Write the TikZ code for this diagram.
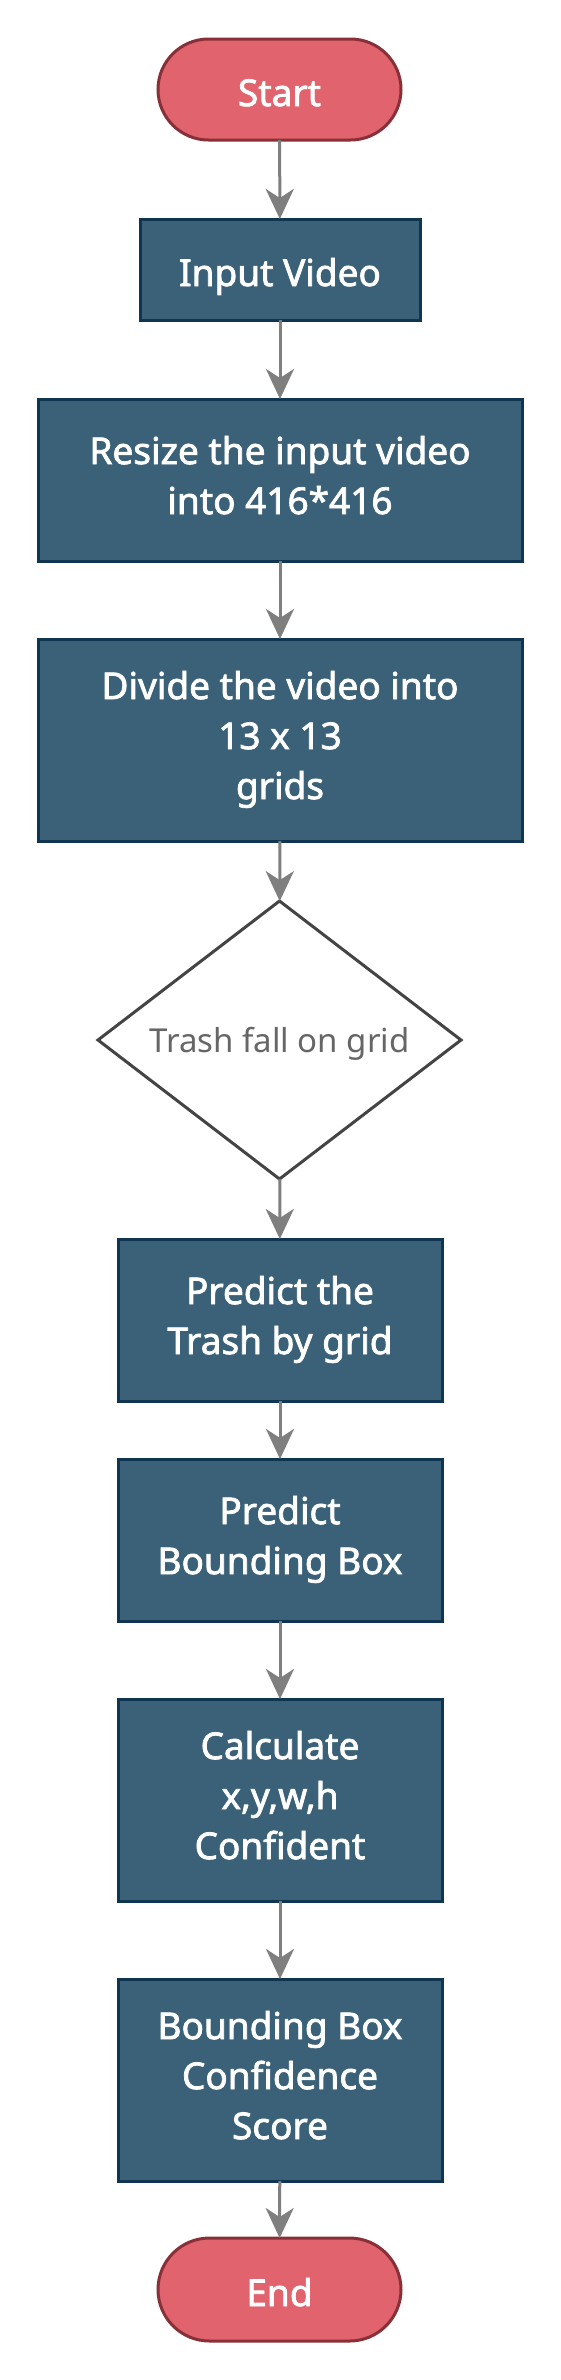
\documentclass[tikz,border=0pt]{standalone}
\usepackage{fontspec}
\setmainfont{Noto Sans}[AutoFakeBold=2]
\usetikzlibrary{arrows.meta,shapes.geometric,shapes.misc}
\definecolor{boxfill}{HTML}{3A6178}
\definecolor{boxline}{HTML}{0F3550}
\definecolor{termfill}{HTML}{E0636E}
\definecolor{termline}{HTML}{873038}
\definecolor{arrowgray}{HTML}{7F7F7F}
\definecolor{decline}{HTML}{444444}
\definecolor{dectext}{HTML}{666666}
\newcommand{\boxstrut}{\rule[-10pt]{0pt}{53pt}}
\newcommand{\decstrut}{\rule[-8pt]{0pt}{40pt}}
\tikzset{
  x=1pt,y=-1pt,
  every node/.style={inner sep=0pt,outer sep=0pt},
  procbox/.style={rectangle,fill=boxfill,draw=boxline,line width=3pt,text=white,
    align=center,font=\fontsize{37}{50}\selectfont\bfseries,
    execute at begin node=\boxstrut, execute at end node=\boxstrut},
  termbox/.style={rounded rectangle,fill=termfill,draw=termline,line width=3pt,text=white,
    font=\fontsize{37}{50}\selectfont\bfseries,
    execute at begin node=\boxstrut, execute at end node=\boxstrut},
  decbox/.style={diamond,aspect=1.3,draw=decline,fill=white,line width=3pt,text=dectext,
    font=\fontsize{33}{40}\selectfont,
    execute at begin node=\decstrut, execute at end node=\decstrut},
  flow/.style={draw=arrowgray,line width=3pt,-{Stealth[length=30pt,width=28pt,inset=9pt]}}
}
\begin{document}
\begin{tikzpicture}
\useasboundingbox (0,0) rectangle (560,2380);
\fill[white] (0,0) rectangle (560,2380);
\node[termbox,minimum width=243pt,minimum height=101pt] (start) at (279.5,89.5) {Start};
\node[procbox,minimum width=280pt,minimum height=101pt] (input) at (280,269.5) {Input Video};
\node[procbox,minimum width=484pt,minimum height=162pt] (resize) at (280,480) {Resize the input video\\into 416*416};
\node[procbox,minimum width=484pt,minimum height=202pt] (divide) at (280,740) {Divide the video into\\13 x 13\\grids};
\node[decbox,minimum width=363pt,minimum height=278pt] (dec) at (279.5,1040) {Trash fall on grid};
\node[procbox,minimum width=324pt,minimum height=162pt] (ptrash) at (280,1320) {Predict the\\Trash by grid};
\node[procbox,minimum width=324pt,minimum height=162pt] (pbox) at (280,1540) {Predict\\Bounding Box};
\node[procbox,minimum width=324pt,minimum height=202pt] (calc) at (280,1800) {Calculate\\x,y,w,h\\Confident};
\node[procbox,minimum width=324pt,minimum height=202pt] (score) at (280,2080) {Bounding Box\\Confidence\\Score};
\node[termbox,minimum width=243pt,minimum height=103pt] (end) at (279.5,2289.5) {End};
\draw[flow] (start) -- (input);
\draw[flow] (input) -- (resize);
\draw[flow] (resize) -- (divide);
\draw[flow] (divide) -- (dec);
\draw[flow] (dec) -- (ptrash);
\draw[flow] (ptrash) -- (pbox);
\draw[flow] (pbox) -- (calc);
\draw[flow] (calc) -- (score);
\draw[flow] (score) -- (end);
\end{tikzpicture}
\end{document}
